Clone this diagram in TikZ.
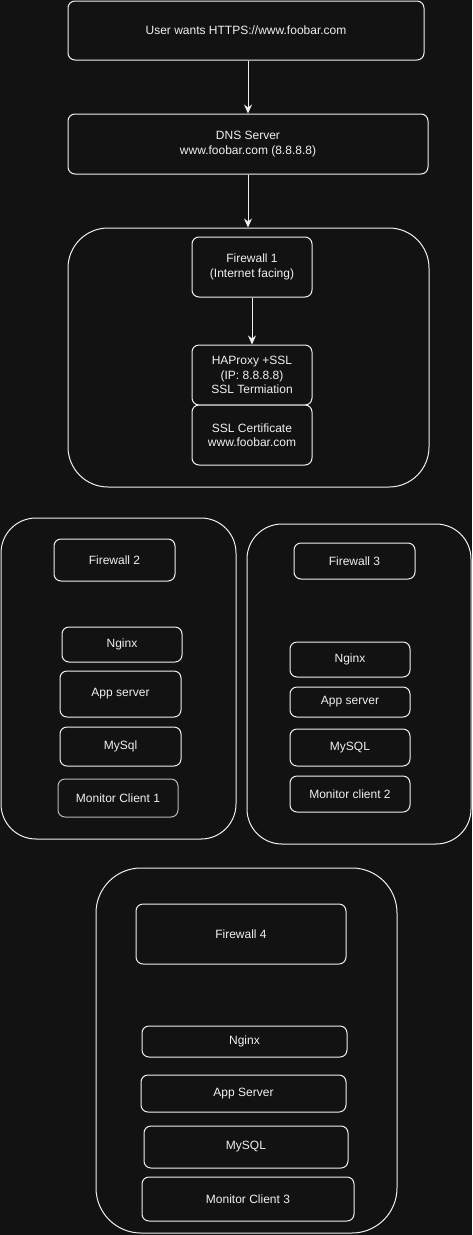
\documentclass[tikz,border=0pt]{standalone}
\usepackage{fontspec}
\setmainfont{Liberation Sans}
\usetikzlibrary{arrows.meta}
\definecolor{bg}{RGB}{18,18,18}
\definecolor{fg}{RGB}{240,240,240}
\begin{document}
\begin{tikzpicture}[x=1pt,y=-1pt,
  box/.style={draw=fg, fill=bg, line width=1pt, rounded corners=7pt, inner sep=0pt,
    text=fg, align=center, font=\fontsize{12}{14.4}\selectfont},
  cont/.style={draw=fg, fill=bg, line width=1pt, inner sep=0pt},
  arr/.style={draw=fg, line width=1pt, -{Stealth[length=9pt,width=8pt,inset=3pt]}}]
\fill[bg] (0,0) rectangle (472,1235);
\useasboundingbox (0,0) rectangle (472,1235);

% top
\node[box, minimum width=356pt, minimum height=59pt] (user) at (246,30.5) {User wants HTTPS://www.foobar.com};
\node[box, minimum width=360pt, minimum height=60pt] (dns) at (248,144) {DNS Server\\www.foobar.com (8.8.8.8)};

% container 1
\node[cont, rounded corners=40pt, minimum width=361pt, minimum height=259pt] (c1) at (248.5,357.5) {};
\node[box, minimum width=120pt, minimum height=60pt] (fw1) at (252,267) {Firewall 1\\(Internet facing)};
\node[box, minimum width=120pt, minimum height=60pt] (ha) at (252,375) {HAProxy +SSL\\(IP: 8.8.8.8)\\SSL Termiation};
\node[box, minimum width=120pt, minimum height=60pt] (ssl) at (252,435) {SSL Certificate\\www.foobar.com};

% container 2
\node[cont, rounded corners=35pt, minimum width=235pt, minimum height=321pt] (c2) at (118.5,678.5) {};
\node[box, minimum width=121pt, minimum height=42pt] (fw2) at (114.5,560) {Firewall 2};
\node[box, minimum width=120pt, minimum height=35pt] (n2) at (122,644.5) {Nginx};
\node[box, minimum width=121pt, minimum height=46pt] (a2) at (120.5,694) {App server};
\node[box, minimum width=121pt, minimum height=39pt] (m2) at (120.5,746.5) {MySql};
\node[box, draw=fg!75!bg, minimum width=120pt, minimum height=38pt] (mc1) at (118,798) {Monitor Client 1};

% container 3
\node[cont, rounded corners=35pt, minimum width=224pt, minimum height=320pt] (c3) at (359,684) {};
\node[box, minimum width=121pt, minimum height=36pt] (fw3) at (354.5,561) {Firewall 3};
\node[box, minimum width=120pt, minimum height=35pt] (n3) at (350,659.5) {Nginx};
\node[box, minimum width=120pt, minimum height=30pt] (a3) at (350,702) {App server};
\node[box, minimum width=120pt, minimum height=37pt] (m3) at (350,747.5) {MySQL};
\node[box, minimum width=120pt, minimum height=36pt] (mc2) at (350,794) {Monitor client 2};

% container 4
\node[cont, rounded corners=45pt, minimum width=301pt, minimum height=365pt] (c4) at (246.5,1050.5) {};
\node[box, minimum width=210pt, minimum height=60pt] (fw4) at (241,934) {Firewall 4};
\node[box, minimum width=205pt, minimum height=31pt] (n4) at (244.5,1041.5) {Nginx};
\node[box, minimum width=205pt, minimum height=37pt] (a4) at (243.5,1093.5) {App Server};
\node[box, minimum width=204pt, minimum height=42pt] (m4) at (246,1147) {MySQL};
\node[box, minimum width=212pt, minimum height=44pt] (mc3) at (248,1199) {Monitor Client 3};

% arrows
\draw[arr] (dns.north |- user.south) -- (dns.north);
\draw[arr] (dns.south) -- (c1.north -| dns.south);
\draw[arr] (fw1.south) -- (ha.north);
\end{tikzpicture}
\end{document}
